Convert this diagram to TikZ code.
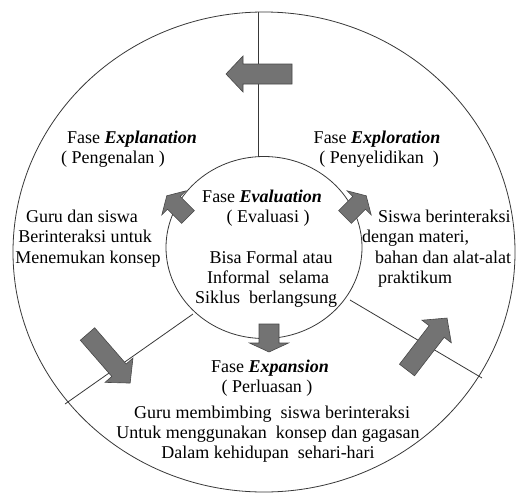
\documentclass[tikz,border=0pt]{standalone}
\usepackage{fontspec}
\setmainfont{Liberation Serif}
\usetikzlibrary{shapes.geometric}
\tikzset{
  ln/.style={draw=black!78, line width=0.8pt},
  blk/.style={fill=black!55, draw=black!72, line width=0.6pt, line join=miter},
  txt/.style={font=\fontsize{18}{20}\selectfont, inner sep=0pt, anchor=base},
  txtw/.style={txt, anchor=base west},
}
% #1 name, #2 tail point, #3 canvas angle, #4 length, #5 shaft half width, #6 head half width, #7 head length
\newcommand\blkarrow[7]{%
  \draw[blk, shift={#2}, rotate=#3] (0,-#5) -- ({#4-#7},-#5) -- ({#4-#7},-#6) -- (#4,0)
     -- ({#4-#7},#6) -- ({#4-#7},#5) -- (0,#5) -- cycle;
  \coordinate (#1) at #2;}
\begin{document}
\begin{tikzpicture}[x=1pt,y=-1pt]
\useasboundingbox (0,0) rectangle (516,493);
\fill[white] (0,0) rectangle (516,493);
% circles
\node[ellipse, ln, minimum width=502pt, minimum height=480pt, inner sep=0pt] (outer) at (264,252) {};
\node[ellipse, ln, minimum width=196pt, minimum height=182pt, inner sep=0pt] (inner) at (264,247.5) {};
% divider lines
\coordinate (t1) at (258,12.2);
\coordinate (t2) at (258,156.8);
\coordinate (l1) at (193,314);
\coordinate (l2) at (65,404);
\coordinate (r1) at (350,300);
\coordinate (r2) at (482,378);
\draw[ln] (t1) -- (t2);
\draw[ln] (l1) -- (l2);
\draw[ln] (r1) -- (r2);
% big arrows
\blkarrow{atop}{(292,74)}{180}{66}{10}{18}{17}
\blkarrow{aleft}{(87.5,334)}{-49}{65}{9.5}{18.5}{17}
\blkarrow{aright}{(407,370)}{52.4}{65.6}{9.5}{18.5}{17}
% small arrows
\blkarrow{sbot}{(269,324)}{-90}{28}{10}{19.5}{9}
\blkarrow{sleft}{(188,217)}{135}{30}{9}{17}{10}
\blkarrow{sright}{(345,217)}{45}{30}{9}{17}{10}
% texts
\node[txt] (xpl1) at (132,143.5) {Fase \textbf{\textit{Explanation}}};
\node[txt] (xpl2) at (113,163.5) {( Pengenalan )};
\node[txt] (xpr1) at (377,143.5) {Fase \textbf{\textit{Exploration}}};
\node[txt] (xpr2) at (379,163.5) {( Penyelidikan \ )};
\node[txt] (ev1) at (262,202.5) {Fase \textbf{\textit{Evaluation}}};
\node[txt] (ev2) at (268,222.5) {( Evaluasi )};
\node[txt] (gl1) at (82,222.5) {Guru dan siswa};
\node[txt] (gl2) at (85,242.5) {Berinteraksi untuk};
\node[txt] (gl3) at (88,263.5) {Menemukan konsep};
\node[txtw] (sr1) at (378,222.5) {Siswa berinteraksi};
\node[txtw] (sr2) at (362,242.5) {dengan materi,};
\node[txtw] (sr3) at (375,263.5) {bahan dan alat-alat};
\node[txtw] (sr4) at (378,283.5) {praktikum};
\node[txt] (bf1) at (271,263.5) {Bisa Formal atau};
\node[txt] (bf2) at (268,283.5) {Informal \ selama};
\node[txt] (bf3) at (266,303.5) {Siklus \ berlangsung};
\node[txt] (xp1) at (270,372.5) {Fase \textbf{\textit{Expansion}}};
\node[txt] (xp2) at (267,392.5) {( Perluasan )};
\node[txt] (gm1) at (272,418.5) {Guru membimbing \ siswa berinteraksi};
\node[txt] (gm2) at (268,438.5) {Untuk menggunakan \ konsep dan gagasan};
\node[txt] (gm3) at (268,458.5) {Dalam kehidupan \ sehari-hari};
\end{tikzpicture}
\end{document}
